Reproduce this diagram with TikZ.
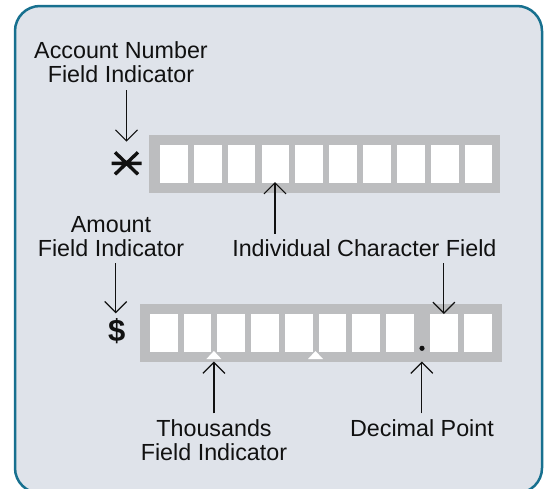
\documentclass[tikz,border=0pt]{standalone}
\usepackage{fontspec}
\setmainfont{Liberation Sans}
\usetikzlibrary{arrows.meta}
\definecolor{bg}{HTML}{DFE3EA}
\definecolor{framec}{HTML}{17708F}
\definecolor{barc}{HTML}{BCBDBF}
\definecolor{ink}{HTML}{111111}
\begin{document}
\begin{tikzpicture}[x=1pt,y=-1pt,
  lbl/.style={inner sep=0pt, anchor=south, align=center, text=ink,
              font=\fontsize{23.3}{24.5}\selectfont},
  arr/.style={draw=ink, line width=1.2pt, -{Straight Barb[length=11pt,width=22pt]}},
  cell/.style={fill=white, draw=none, inner sep=0pt, minimum width=27.7pt, minimum height=37.7pt},
  tri/.style={fill=white, draw=none},
]
\useasboundingbox (0,0) rectangle (545,488);
\begin{scope}
\clip (0,0) rectangle (545,488);
\draw[draw=framec, fill=bg, line width=2.5pt, rounded corners=25pt] (15,6) rectangle (542,493);
\end{scope}

% top bar
\fill[barc] (149,135) rectangle (500,193);
\foreach \i in {0,...,9} {
  \node[cell] (t\i) at ({173.85+33.85*\i},163.85) {};
}
% asterisk
\coordinate (ast) at (126.5,163.3);
\draw[ink, line width=3.4pt] ([xshift=-15pt]ast) -- ([xshift=15pt]ast)
  ([xshift=-11.5pt,yshift=11pt]ast) -- ([xshift=11.5pt,yshift=-11pt]ast)
  ([xshift=-11.5pt,yshift=-11pt]ast) -- ([xshift=11.5pt,yshift=11pt]ast);

% bottom bar
\fill[barc] (140,304) rectangle (501.5,361.7);
\foreach \i in {0,...,7} {
  \node[cell] (b\i) at ({163.85+33.7*\i},332.85) {};
}
\node[cell] (b8) at (443.85,332.85) {};
\node[cell] (b9) at (477.85,332.85) {};
\fill[tri] (213.9,351) -- (221.4,359) -- (206.4,359) -- cycle;
\fill[tri] (315.5,351) -- (323,359) -- (308,359) -- cycle;
\fill[ink] (422,348.3) circle (2.6pt);
\node[inner sep=0pt, text=ink, font=\fontsize{31}{31}\selectfont\bfseries] (dollar) at (116.7,331) {\$};

% labels
\node[lbl] (acc) at (121,83.3) {Account Number\\Field Indicator};
\node[lbl] (ind) at (364.4,257) {Individual Character Field};
\node[lbl] (amt) at (111,257) {Amount\\Field Indicator};
\node[lbl] (thou) at (214,461) {Thousands\\Field Indicator};
\node[lbl] (dec) at (422,436.5) {Decimal Point};

% arrow end points
\coordinate (a1s) at (126.5,90);   \coordinate (a1e) at (126.5,141.7);
\coordinate (a2s) at (275,233.5);  \coordinate (a2e) at (275,182);
\coordinate (a3s) at (443.85,263); \coordinate (a3e) at (443.85,314);
\coordinate (a4s) at (115.7,263);  \coordinate (a4e) at (115.7,313.3);
\coordinate (a5s) at (213.9,413.3); \coordinate (a5e) at (213.9,361.5);
\coordinate (a6s) at (421.8,413.3); \coordinate (a6e) at (421.8,361.5);

\draw[arr] (a1s) -- (a1e);
\draw[arr] (a2s) -- (a2e);
\draw[arr] (a3s) -- (a3e);
\draw[arr] (a4s) -- (a4e);
\draw[arr] (a5s) -- (a5e);
\draw[arr] (a6s) -- (a6e);
\end{tikzpicture}
\end{document}
